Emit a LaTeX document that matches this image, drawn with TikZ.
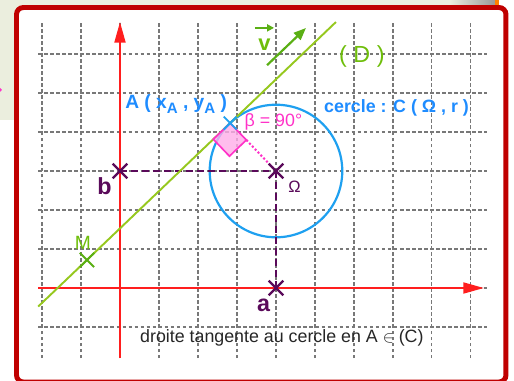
\documentclass[tikz,border=0pt]{standalone}
\usepackage{fontspec}
\setmainfont{Liberation Sans}
\usepackage{tikz}
\usetikzlibrary{calc, arrows.meta, shapes.misc}
\definecolor{FrameRed}{RGB}{192,0,0}
\definecolor{AxisRed}{RGB}{255,30,30}
\definecolor{LineGreen}{RGB}{150,200,30}
\definecolor{VecGreen}{RGB}{90,175,20}
\definecolor{LabelGreen}{RGB}{110,190,10}
\definecolor{LabelBlue}{RGB}{30,140,255}
\definecolor{CircleBlue}{RGB}{30,160,240}
\definecolor{RightPink}{RGB}{255,50,200}
\definecolor{DarkPurple}{RGB}{90,10,90}
\definecolor{panel}{RGB}{235,238,222}
\definecolor{gridgrey}{RGB}{120,120,120}

\begin{document}
\begin{tikzpicture}[
  font=\normalsize,
  gridline/.style={gridgrey, line width=0.75pt, dash pattern=on 2.6pt off 1.8pt},
  axis/.style={AxisRed, line width=1.4pt, -{Triangle[length=15pt, width=8pt]}},
  crossmark/.style={draw, cross out, minimum size=9pt, inner sep=0pt, line width=1.6pt},
  projline/.style={DarkPurple, line width=1.6pt, dash pattern=on 5pt off 3pt},
  txt/.style={inner sep=0pt, anchor=base west},
]
\useasboundingbox (-3.077,-2.359) rectangle (10.103,7.385);
\clip (-3.077,-2.359) rectangle (10.103,7.385);

% Slide background and frame
\fill[panel] (-3.077,4.308) rectangle (9.667,7.385);
\shade[left color=panel, right color=gray!80] (8.46,7.2) rectangle (9.615,7.385);
\fill[orange] (9.615,7.256) rectangle (9.72,7.385);
\fill[RightPink] (-3.077,5.08) circle (0.05);
\draw[FrameRed, line width=3.6pt, fill=white, rounded corners=5pt] (-2.654,-2.41) rectangle (9.897,7.192);

% Grid
\foreach \x in {-2,...,9} \draw[gridline] (\x,-1.8) -- (\x,6.82);
\foreach \y in {-1,...,6} \draw[gridline] (-2.1,\y) -- (9.4,\y);

% Axes
\coordinate (xmin) at (-2.1,0);
\coordinate (xmax) at (9.33,0);
\coordinate (ymin) at (0,-1.8);
\coordinate (ymax) at (0,6.82);
\draw[axis] (xmin) -- (xmax);
\draw[axis] (ymin) -- (ymax);

% Points
\coordinate (Omega) at (4,3);
\coordinate (a) at (4,0);
\coordinate (b) at (0,3);
\coordinate (A) at ($(Omega)+(133.7:1.7)$);
\coordinate (Aq) at ($(A)+(313.7:0.6)$);
\coordinate (Dlow) at ($(A)+(223.7:6.81)$);
\coordinate (Dhigh) at ($(A)+(43.7:3.75)$);
\coordinate (M) at ($(A)+(223.7:5.08)$);
\coordinate (v1) at ($(A)+(43.7:1.71)+(133.7:0.42)$);
\coordinate (v2) at ($(A)+(43.7:3.09)+(133.7:0.42)$);

% Circle C(Omega, r)
\draw[CircleBlue, line width=1.6pt] (Omega) circle (1.7);

% Projections on the axes
\draw[projline] (b) -- (Omega);
\draw[projline] (Omega) -- (a);

% Line (D) and its vector
\draw[LineGreen, line width=1.4pt] (Dlow) -- (Dhigh);
\draw[VecGreen, line width=1.6pt, -{Triangle[length=9pt, width=7pt]}] (v1) -- (v2);

% Right angle at A
\draw[RightPink, line width=1.5pt, dash pattern=on 1.5pt off 1.5pt] (Aq) -- (Omega);
\filldraw[RightPink, line width=1.2pt, fill=RightPink!40, fill opacity=0.8]
  (A) -- ($(A)+(223.7:0.6)$) -- ($(A)+(223.7:0.6)+(313.7:0.6)$) -- (Aq) -- cycle;

% Crosses
\node[crossmark, DarkPurple] (crossb) at (b) {};
\node[crossmark, DarkPurple] (crossOmega) at (Omega) {};
\node[crossmark, DarkPurple] (crossa) at (a) {};
\node[crossmark, CircleBlue, minimum size=8pt, line width=1.4pt] (crossA) at (A) {};
\node[crossmark, VecGreen, minimum size=9pt, line width=1.4pt] (crossM) at (M) {};

% Labels
\node[txt, LabelGreen, font=\bfseries\fontsize{16}{18}\selectfont] (vlab) at (3.54,6.10) {v};
\coordinate (vl) at (3.46,6.67);
\coordinate (vr) at (3.95,6.67);
\draw[VecGreen, line width=1.4pt, -{Triangle[length=5pt, width=5pt]}] (vl) -- (vr);
\node[txt, LabelGreen, font=\fontsize{17}{19}\selectfont] (Dlab) at (5.615,5.795) {( D )};
\node[txt, LabelBlue, font=\bfseries\fontsize{13}{15}\selectfont] (Clab) at (5.23,4.49) {cercle : C ( Ω , r )};
\node[txt, LabelBlue, font=\bfseries\fontsize{14}{16}\selectfont] (Alab) at (0.128,4.615)
  {A ( x\raisebox{-4pt}{\fontsize{11}{12}\selectfont A} , y\raisebox{-4pt}{\fontsize{11}{12}\selectfont A} )};
\node[txt, RightPink, font=\fontsize{13}{15}\selectfont] (betalab) at (3.19,4.13) {β = 90°};
\node[txt, DarkPurple, font=\bfseries\fontsize{17}{19}\selectfont] (blab) at (-0.59,2.385) {b};
\node[txt, DarkPurple, font=\bfseries\fontsize{17}{19}\selectfont] (alab) at (3.51,-0.615) {a};
\node[txt, DarkPurple, font=\fontsize{12}{14}\selectfont] (Omegalab) at (4.31,2.46) {Ω};
\node[inner sep=0pt, anchor=base, LabelGreen, font=\fontsize{14}{16}\selectfont] (Mlab) at (-0.95,1.0) {M};
\node[txt, black!85, font=\fontsize{13}{15}\selectfont] (caption) at (0.51,-1.41)
  {droite tangente au cercle en A $\in$ (C)};

\end{tikzpicture}
\end{document}
